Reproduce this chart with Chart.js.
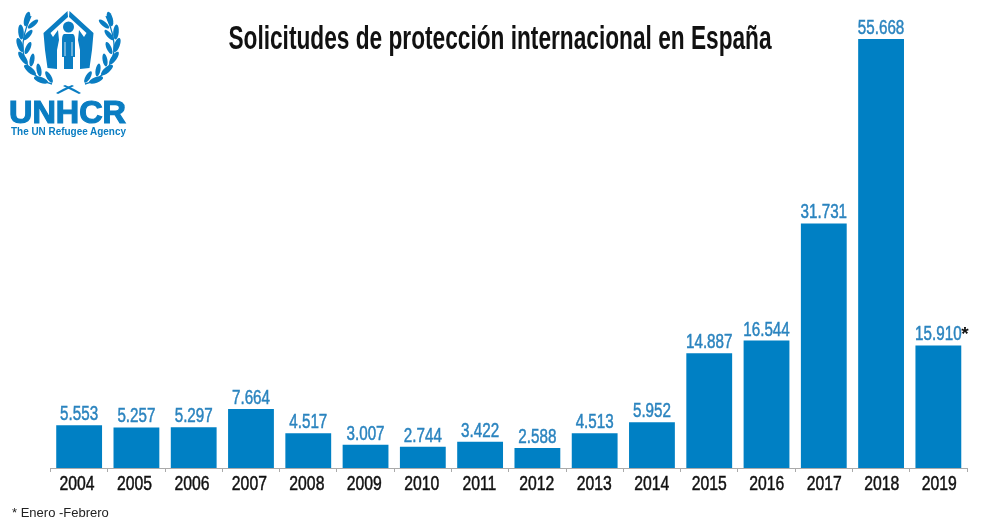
<!DOCTYPE html>
<html>
<head>
<meta charset="utf-8">
<script src="https://cdn.jsdelivr.net/npm/chart.js@4/dist/chart.umd.min.js"></script>
<style>
body { margin: 0; background: #fff; }
#wrap { position: relative; width: 1000px; height: 528px; overflow: hidden; }
#logo { position: absolute; left: 0; top: 0; }
</style>
</head>
<body>
<div id="wrap">
<canvas id="solicitudes" width="1000" height="528"></canvas>
<svg id="logo" width="140" height="145" viewBox="0 0 140 145" fill="#0a7dc2">
  <defs>
    <g id="mitad">
      <!-- hand and roof -->
      <path d="M67.5 11 L43.5 33 L45 50 L47.5 68 L57 69 L57 50 L59 40 L58 30 L53 37 L50.5 33 L68 17 Z"/>
      <!-- laurel -->
      <path d="M52 84 Q30 78 24 56 Q20 40 31 16" fill="none" stroke="#0a7dc2" stroke-width="1.3"/>
      <ellipse cx="27" cy="19" rx="2.8" ry="7.5" transform="rotate(15 27 19)"/>
      <ellipse cx="21" cy="32" rx="2.8" ry="7.5" transform="rotate(-5 21 32)"/>
      <ellipse cx="20" cy="45" rx="2.8" ry="7.5" transform="rotate(-20 20 45)"/>
      <ellipse cx="23" cy="58" rx="2.8" ry="7.5" transform="rotate(-35 23 58)"/>
      <ellipse cx="30" cy="70" rx="2.8" ry="7.5" transform="rotate(-50 30 70)"/>
      <ellipse cx="41" cy="80" rx="2.8" ry="7.5" transform="rotate(-70 41 80)"/>
      <ellipse cx="33" cy="24" rx="2.4" ry="6.5" transform="rotate(50 33 24)"/>
      <ellipse cx="28" cy="35" rx="2.4" ry="6.5" transform="rotate(40 28 35)"/>
      <ellipse cx="28" cy="48" rx="2.4" ry="6.5" transform="rotate(25 28 48)"/>
      <ellipse cx="32" cy="60" rx="2.4" ry="6.5" transform="rotate(10 32 60)"/>
      <ellipse cx="39" cy="70" rx="2.4" ry="6.5" transform="rotate(-10 39 70)"/>
      <ellipse cx="49" cy="77" rx="2.4" ry="6.5" transform="rotate(-30 49 77)"/>
    </g>
  </defs>
  <use href="#mitad"/>
  <use href="#mitad" transform="translate(137,0) scale(-1,1)"/>
  <!-- person -->
  <circle cx="68.5" cy="27" r="5.5"/>
  <path d="M64 34 H73 Q75 35 75 40 V57 H73 V69 H64 V57 H62 V40 Q62 35 64 34 Z"/>
  <path d="M65 42 V56 M72 42 V56" stroke="#fff" stroke-width="0.8"/>
  <!-- crossed stems -->
  <path d="M56 93 Q64 88 72 85 L74 86 Q66 90 58 94 Z"/>
  <path d="M81 93 Q73 88 65 85 L63 86 Q71 90 79 94 Z"/>
  <text x="9" y="123" font-family="Liberation Sans" font-weight="700" font-size="32" textLength="117" lengthAdjust="spacingAndGlyphs" stroke="#0a7dc2" stroke-width="1.2">UNHCR</text>
  <text x="11" y="135" font-family="Liberation Sans" font-weight="700" font-size="10.5" textLength="115" lengthAdjust="spacingAndGlyphs">The UN Refugee Agency</text>
</svg>
</div>
<script>
"use strict";
var years = ["2004", "2005", "2006", "2007", "2008", "2009", "2010", "2011", "2012", "2013", "2014", "2015", "2016", "2017", "2018", "2019"];
var solicitudes = [5553, 5257, 5297, 7664, 4517, 3007, 2744, 3422, 2588, 4513, 5952, 14887, 16544, 31731, 55668, 15910];
var chartTitle = "Solicitudes de protección internacional en España";
var footnote = "* Enero -Febrero";
var starredYear = "2019";

var barBlue = "#0080c4";
var labelBlue = "#2b84bf";
var sans = "'Liberation Sans'";

function miles(v) {
    return String(v).replace(/\B(?=(\d{3})+$)/g, ".");
}

// squeezes text horizontally, the original face is narrower than anything installed
function squeezed(ctx, text, x, y, font, color, sx, align, thicken) {
    ctx.save();
    ctx.font = font;
    ctx.fillStyle = color;
    ctx.textAlign = align;
    ctx.textBaseline = "alphabetic";
    ctx.translate(x, y);
    ctx.scale(sx, 1);
    ctx.fillText(text, 0, 0);
    if (thicken) {
        ctx.strokeStyle = color;
        ctx.lineWidth = thicken;
        ctx.strokeText(text, 0, 0);
    }
    ctx.restore();
}

var textPlugin = {
    id: "textos",
    afterDraw: function (chart) {
        var ctx = chart.ctx;
        var xScale = chart.scales.x;
        chart.getDatasetMeta(0).data.forEach(function (bar, i) {
            squeezed(ctx, miles(solicitudes[i]), bar.x, bar.y - 5, "20px " + sans, labelBlue, 0.76, "center", 0.5);
            if (years[i] === starredYear) {
                squeezed(ctx, "*", bar.x + 23, bar.y - 5, "bold 19px " + sans, "#111", 1, "left");
            }
        });
        // year labels, taken from the scale
        xScale.ticks.forEach(function (tick, i) {
            var tx = xScale.getPixelForTick(i) + (i - 11) * 0.2;
            squeezed(ctx, tick.label, tx, 490, "21px " + sans, "#111", 0.75, "center", 0.5);
        });
        squeezed(ctx, chartTitle, 500, 49, "bold 34px " + sans, "#111", 0.667, "center");
        squeezed(ctx, footnote, 12, 517, "13px " + sans, "#222", 1, "left");
    }
};

var myBarChart = new Chart(document.getElementById("solicitudes"), {
    type: "bar",
    plugins: [textPlugin],
    data: {
        labels: years,
        datasets: [
        {
            data: solicitudes,
            backgroundColor: barBlue,
            barPercentage: 0.8,
            categoryPercentage: 1,
        }
        ],
    },
    options: {
        responsive: false,
        animation: false,
        layout: {
            padding: { left: 50.5, right: 33, top: 39, bottom: 0 },
        },
        plugins: {
            legend: { display: false },
            tooltip: { enabled: false },
        },
        scales: {
            y: {
                display: false,
                min: 0,
                max: 55668,
            },
            x: {
                afterFit: function (scale) { scale.height = 60; },
                border: { color: "#aaaaaa", width: 1 },
                grid: {
                    drawOnChartArea: false,
                    drawTicks: true,
                    tickLength: 4,
                    color: "#aaaaaa",
                },
                ticks: {
                    color: "rgba(0,0,0,0)",
                    padding: 1,
                    maxRotation: 0,
                    autoSkip: false,
                    font: { family: sans, size: 12 },
                },
            },
        },
    },
});
</script>
</body>
</html>
